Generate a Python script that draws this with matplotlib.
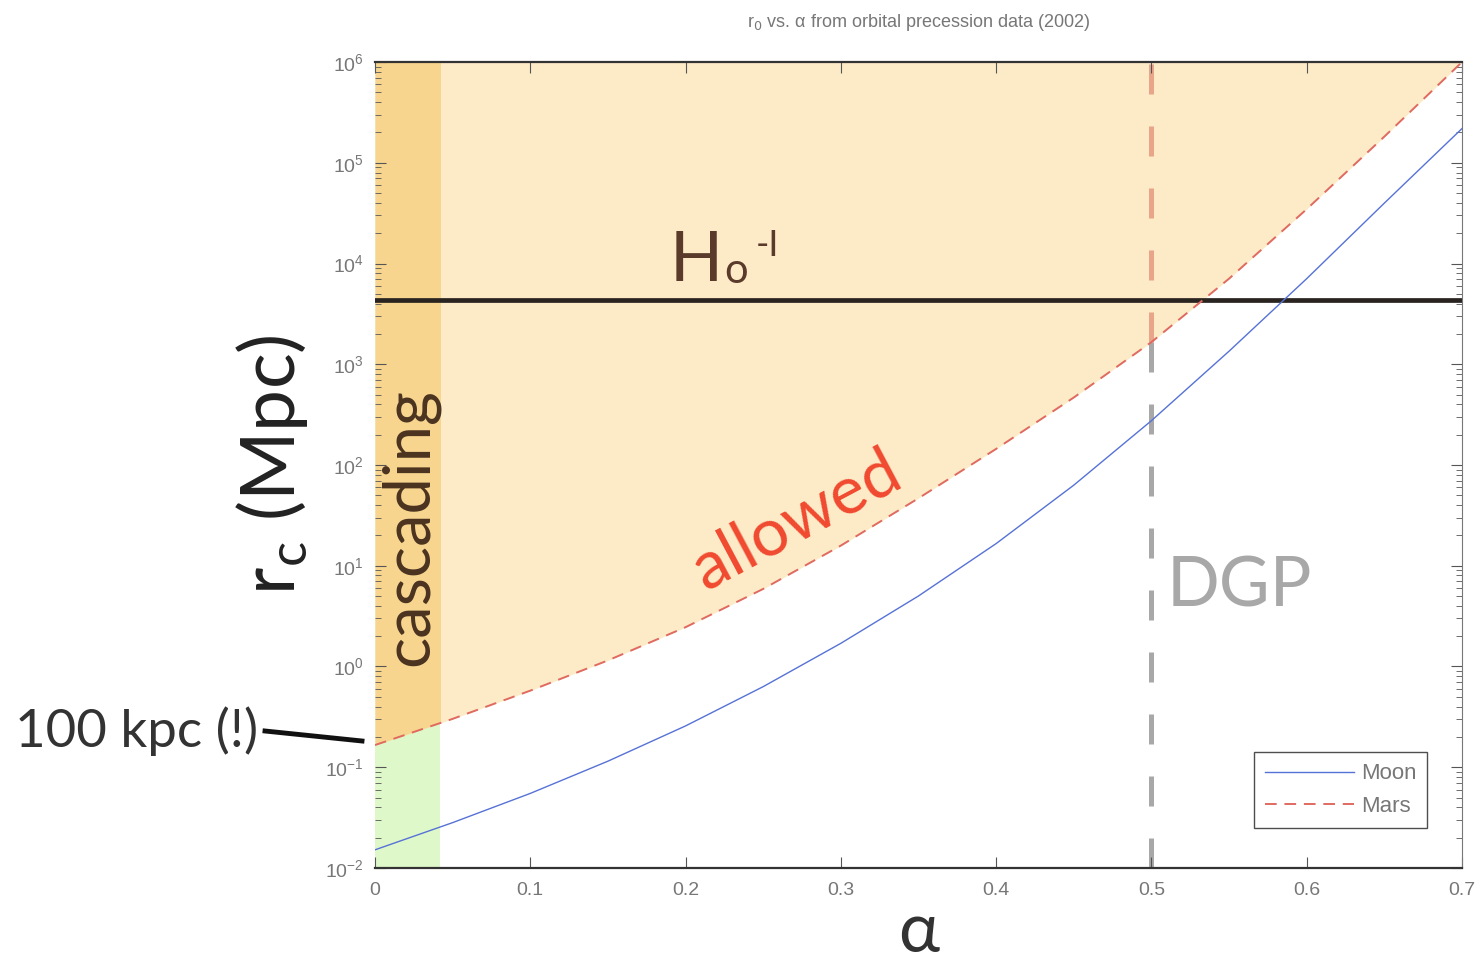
import numpy as np
import matplotlib
matplotlib.use("Agg")
import matplotlib.pyplot as plt
from matplotlib.patches import Rectangle
from matplotlib.ticker import LogLocator, NullFormatter
from matplotlib.transforms import offset_copy

# values (log10 of r_c in Mpc)
alpha = [0.00, 0.05, 0.10, 0.15, 0.20, 0.25, 0.30, 0.35, 0.40, 0.45, 0.50, 0.55, 0.60, 0.65, 0.70]
log_rc_mars = [-0.78, -0.52, -0.24, 0.06, 0.39, 0.77, 1.20, 1.67, 2.16, 2.67, 3.22, 3.85, 4.54, 5.26, 6.00]
log_rc_moon = [-1.82, -1.55, -1.26, -0.94, -0.59, -0.20, 0.23, 0.70, 1.22, 1.80, 2.44, 3.13, 3.85, 4.60, 5.34]
hubble_radius = 4300
alpha_dgp = 0.5
alpha_cascade = 0.042
xticks = [0, 0.1, 0.2, 0.3, 0.4, 0.5, 0.6, 0.7]
xticklabels = ["0", "0.1", "0.2", "0.3", "0.4", "0.5", "0.6", "0.7"]

rc_mars = 10 ** np.array(log_rc_mars)
rc_moon = 10 ** np.array(log_rc_moon)

light_orange = "#FDEBC8"
dark_orange = "#F8D58E"
green = "#DEF8CA"
tick_font = ["Liberation Sans Narrow", "Liberation Sans", "DejaVu Sans"]
big_font = ["Lato", "DejaVu Sans"]

fig = plt.figure(figsize=(14.84, 9.63), dpi=100)
ax = fig.add_axes([0.2527, 0.0987, 0.7325, 0.8369])
ax.set_yscale("log")
ax.set_xlim(0, 0.7)
ax.set_ylim(1e-2, 1e6)

# shaded regions
ax.axvspan(0, alpha_cascade, color=green, lw=0, zorder=0)
ax.fill_between(alpha, rc_mars, 1e6, color=light_orange, lw=0, zorder=0.5)
band = ax.fill_between(alpha, rc_mars, 1e6, color=dark_orange, lw=0, zorder=0.6)
band.set_clip_path(Rectangle((0, 1e-2), alpha_cascade, 1e6, transform=ax.transData))

# DGP line: salmon above the Mars curve, grey below
mars_at_dgp = rc_mars[alpha.index(alpha_dgp)]
ax.vlines(alpha_dgp, 1e-2, mars_at_dgp, color="#A8A8A8", lw=3.6, ls=(0, (6, 6.4)), zorder=1)
ax.vlines(alpha_dgp, mars_at_dgp, 1e6, color="#E9A58A", lw=3.6, ls=(0, (6, 6.4)), zorder=1.1)

# Hubble radius
ax.axhline(hubble_radius, color="#2a2420", lw=3.4, zorder=2)

# curves
ax.plot(alpha, rc_moon, color="#5672D6", lw=1.0, label="Moon", zorder=3)
ax.plot(alpha, rc_mars, color="#E06A60", lw=1.4, ls=(0, (6, 4)), label="Mars", zorder=3)

# ticks
ax.set_xticks(xticks)
ax.set_xticklabels(xticklabels)
ax.yaxis.set_major_locator(LogLocator(base=10, numticks=10))
ax.yaxis.set_minor_locator(LogLocator(base=10, subs=np.arange(2, 10), numticks=10))
ax.yaxis.set_minor_formatter(NullFormatter())
ax.tick_params(which="both", direction="in", top=True, right=True, colors="#555555",
               labelcolor="#777777", labelsize=14)
ax.tick_params(which="major", length=8, width=0.8)
ax.tick_params(which="minor", length=4, width=0.6)
for lab in ax.get_xticklabels() + ax.get_yticklabels():
    lab.set_family(tick_font)
ax.tick_params(axis="x", pad=10)
ax.tick_params(axis="y", pad=8)

for side in ["top", "bottom"]:
    ax.spines[side].set_color("#333333")
    ax.spines[side].set_linewidth(1.6)
ax.spines["right"].set_color("#777777")
ax.spines["left"].set_visible(False)

ax.set_title(r"r$_0$ vs. α from orbital precession data (2002)", fontsize=13,
             color="#777777", family=tick_font, pad=25)

fig.text(0.5 * (375 + 1462) / 1484, (963 - 932) / 963, "α", ha="center", va="center",
         fontsize=50, family=big_font, color="#333333")
ax.set_ylabel(r"r$_\mathregular{c}$ (Mpc)", fontsize=54, family=big_font, color="#222222")
ax.yaxis.set_label_coords(-0.06, 0.5)

leg = ax.legend(loc="lower right", bbox_to_anchor=(0.968, 0.05), fontsize=16,
                frameon=True, fancybox=False, edgecolor="#222222", handlelength=4.0,
                borderpad=0.5, labelspacing=0.5, handletextpad=0.3, borderaxespad=0)
leg.get_frame().set_linewidth(1.0)
for t in leg.get_texts():
    t.set_color("#777777")
    t.set_family(tick_font)

# annotations
ax.text(0.022, 10 ** 1.385, "cascading", rotation=90, ha="center", va="center",
        fontsize=47, family=big_font, color="#4a3320", zorder=4)
ax.text(0.272, 10 ** 1.45, "allowed", rotation=28, ha="center", va="center",
        rotation_mode="anchor", fontsize=48, family=big_font, color="#F04A30", zorder=4)

h_anchor = (0.19, 10 ** 3.83)
ax.text(*h_anchor, "H", ha="left", va="baseline", fontsize=50,
        family=big_font, color="#5a3a2a", zorder=4)
ax.text(*h_anchor, "o", ha="left", va="baseline", fontsize=30, family=big_font,
        color="#5a3a2a", zorder=4,
        transform=offset_copy(ax.transData, fig=fig, x=39, y=-2, units="points"))
ax.text(*h_anchor, "-I", ha="left", va="baseline", fontsize=26, family=big_font,
        color="#5a3a2a", zorder=4,
        transform=offset_copy(ax.transData, fig=fig, x=62, y=18, units="points"))

ax.text(0.51, 10 ** 0.79, "DGP", ha="left", va="center",
        fontsize=50, family=big_font, color="#A8A8A8", zorder=4)

fig.text(0.01, (963 - 731) / 963, "100 kpc (!)", ha="left", va="center",
         fontsize=38, family=big_font, color="#333333")
fig.add_artist(plt.Line2D([265 / 1484, 362 / 1484], [(963 - 731) / 963, (963 - 741) / 963],
                          color="#111111", lw=3.5))

fig.savefig("out.png", dpi=100)
